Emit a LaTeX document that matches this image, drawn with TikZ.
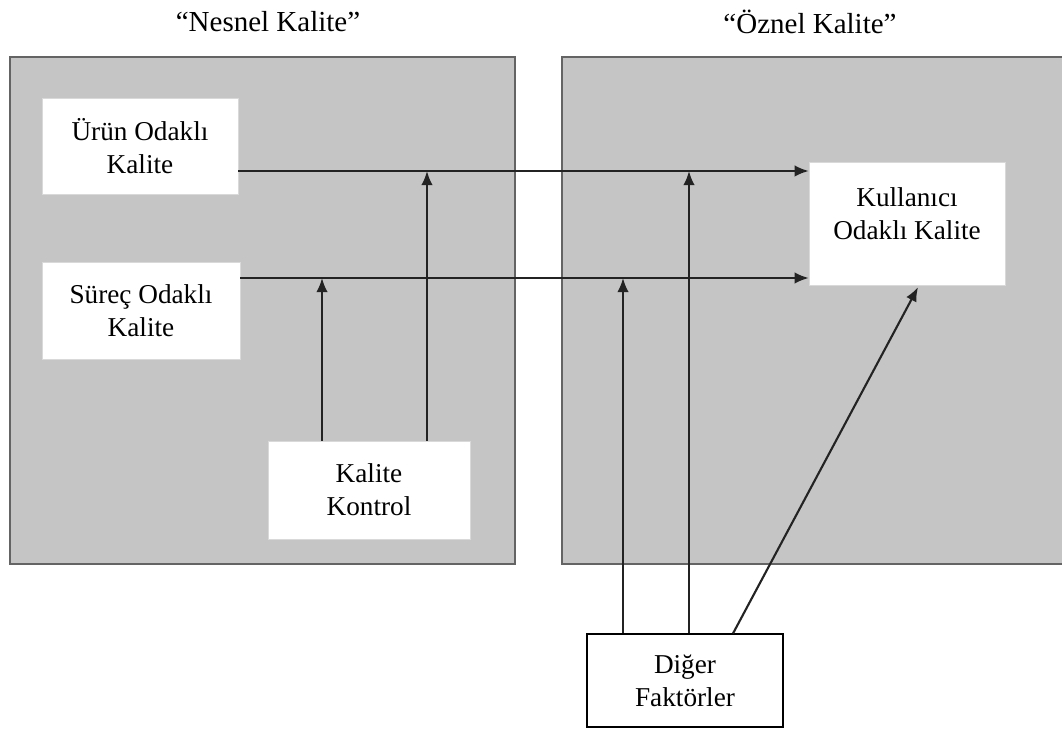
\documentclass[tikz,border=0pt]{standalone}
\usepackage{fontspec}
\setmainfont{Liberation Serif}
\usetikzlibrary{arrows.meta}
\definecolor{panelgray}{RGB}{197,197,197}
\definecolor{panelline}{RGB}{100,100,100}
\definecolor{flowline}{RGB}{35,35,35}
\tikzset{
    panel/.style={fill=panelgray, draw=panelline, line width=1.4pt},
    whitebox/.style={fill=white, draw=white!85!black, line width=0.3pt, inner sep=0pt, align=center,
        font=\fontsize{15.5}{18.7}\selectfont},
    title/.style={font=\fontsize{16.5}{19}\selectfont},
    flow/.style={draw=flowline, line width=1.2pt, -{Latex[length=8pt, width=6.5pt]}}
}
\begin{document}
\begin{tikzpicture}[x=0.02cm, y=-0.02cm]
    \useasboundingbox (0,0) rectangle (1062,729);
    \fill[white] (0,0) rectangle (1062,729);
    \draw[panel] (10,57) rectangle (515,564);
    \draw[panel] (562,57) rectangle (1075,564);
    \node[title] (nesnel) at (268,22) {“Nesnel Kalite”};
    \node[title] (oznel) at (810,22) {“Öznel Kalite”};
    \node[whitebox, minimum width=3.92cm, minimum height=1.92cm] (urun) at (140,146) {Ürün Odaklı\\Kalite};
    \node[whitebox, minimum width=3.96cm, minimum height=1.94cm] (surec) at (141,311) {Süreç Odaklı\\Kalite};
    \node[whitebox, minimum width=4.04cm, minimum height=1.96cm] (kontrol) at (369,490) {Kalite\\Kontrol};
    \node[whitebox, minimum width=3.92cm, minimum height=2.46cm] (kullanici) at (907,223.5) {Kullanıcı\\Odaklı Kalite\\[-0.26cm]};
    \node[whitebox, draw=black, line width=0.6pt, minimum width=3.92cm, minimum height=1.86cm] (diger) at (685,680.5) {Diğer\\Faktörler};
    \draw[flow] ([yshift=-5mm]urun.east) coordinate (a1) -- (a1 -| kullanici.west);
    \draw[flow] ([yshift=6.6mm]surec.east) coordinate (a2) -- (a2 -| kullanici.west);
    \draw[flow] ([xshift=-9.4mm]kontrol.north) -- ([xshift=-9.4mm]kontrol.north |- a2);
    \draw[flow] ([xshift=11.6mm]kontrol.north) -- ([xshift=11.6mm]kontrol.north |- a1);
    \draw[flow] ([xshift=-12.4mm]diger.north) -- ([xshift=-12.4mm]diger.north |- a2);
    \draw[flow] ([xshift=0.8mm]diger.north) -- ([xshift=0.8mm]diger.north |- a1);
    \draw[flow] ([xshift=9.6mm]diger.north) -- ([xshift=2.2mm, yshift=-0.4mm]kullanici.south);
\end{tikzpicture}
\end{document}
